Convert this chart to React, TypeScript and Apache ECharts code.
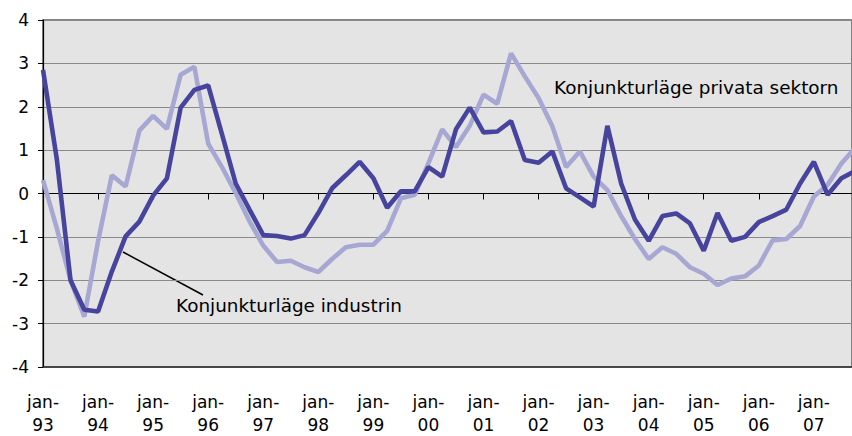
import React, { useEffect, useRef } from 'react';
import * as echarts from 'echarts';

// Quarterly observations, 1993 Q1 .. 2007 Q4 (index = quarter number)
const yearLabels = ['93', '94', '95', '96', '97', '98', '99', '00', '01', '02', '03', '04', '05', '06', '07'];

const industrin = [
  2.85, 0.8, -2.0, -2.68, -2.72, -1.8, -0.99, -0.65,
  -0.05, 0.35, 1.98, 2.39, 2.49, 1.37, 0.23, -0.37,
  -0.96, -0.98, -1.04, -0.96, -0.45, 0.12, 0.42, 0.73,
  0.35, -0.33, 0.05, 0.05, 0.61, 0.39, 1.48, 1.98,
  1.41, 1.43, 1.67, 0.77, 0.71, 0.97, 0.12, -0.09,
  -0.3, 1.56, 0.23, -0.6, -1.09, -0.52, -0.46, -0.69,
  -1.32, -0.45, -1.09, -1.0, -0.66, -0.52, -0.37, 0.23,
  0.73, -0.03, 0.35, 0.52,
];

const privata = [
  0.31, -0.8, -2.0, -2.84, -1.1, 0.42, 0.16, 1.45,
  1.79, 1.49, 2.74, 2.92, 1.15, 0.61, 0.01, -0.64,
  -1.2, -1.58, -1.55, -1.7, -1.81, -1.51, -1.24, -1.18,
  -1.18, -0.86, -0.11, -0.03, 0.7, 1.48, 1.07, 1.56,
  2.28, 2.07, 3.23, 2.7, 2.2, 1.55, 0.61, 0.97,
  0.39, 0.08, -0.52, -1.05, -1.51, -1.24, -1.39, -1.7,
  -1.85, -2.11, -1.96, -1.91, -1.66, -1.08, -1.05, -0.75,
  -0.07, 0.2, 0.69, 1.05,
];

const seriesNames = ['Konjunkturläge privata sektorn', 'Konjunkturläge industrin'];

const X_MAX = 58.77;
const FONT = 'DejaVu Sans';

export default function App() {
  const ref = useRef<HTMLDivElement>(null);

  useEffect(() => {
    const chart = echarts.init(ref.current!, null, { renderer: 'svg' });
    const toPairs = (arr: number[]) => arr.map((v, i) => [i, v]);
    const xLabel = (v: number) => {
      if (Math.abs(v - Math.round(v)) > 1e-6) return '';
      const r = Math.round(v);
      if (r % 4 !== 0) return '';
      const y = yearLabels[r / 4];
      return y ? 'jan-\n' + y : '';
    };

    chart.setOption({
      animation: false,
      backgroundColor: '#ffffff',
      grid: {
        left: 43,
        top: 20,
        right: -3,
        bottom: 66,
        show: true,
        backgroundColor: '#e4e4e4',
        borderColor: '#5c5c5c',
        borderWidth: 1.5,
      },
      xAxis: [
        {
          type: 'value',
          min: 0,
          max: X_MAX,
          interval: 4,
          position: 'top',
          axisLine: { show: true, onZero: true, lineStyle: { color: '#000', width: 1.2 } },
          axisTick: { show: true, inside: true, length: 6, lineStyle: { color: '#000', width: 1 } },
          axisLabel: { show: false },
          splitLine: { show: false },
        },
        {
          type: 'value',
          min: 0,
          max: X_MAX,
          interval: 4,
          position: 'bottom',
          axisLine: { show: true, onZero: false, lineStyle: { color: '#333', width: 1.5 } },
          axisTick: { show: false },
          splitLine: { show: false },
          axisLabel: {
            formatter: xLabel,
            fontFamily: FONT,
            fontSize: 17,
            lineHeight: 23,
            color: '#000',
            margin: 23,
            showMaxLabel: false,
          },
        },
      ],
      yAxis: {
        type: 'value',
        min: -4,
        max: 4,
        interval: 1,
        axisLine: { show: true, onZero: false, lineStyle: { color: '#000', width: 1.2 } },
        axisTick: { show: true, length: 5, lineStyle: { color: '#000' } },
        axisLabel: { fontFamily: FONT, fontSize: 17, color: '#000', margin: 14 },
        splitLine: { show: true, lineStyle: { color: '#8a8a8a', width: 1 } },
      },
      series: [
        {
          name: seriesNames[0],
          type: 'line',
          xAxisIndex: 0,
          data: toPairs(privata),
          symbol: 'none',
          lineStyle: { color: '#a7a7d3', width: 4.6 },
          itemStyle: { color: '#a7a7d3' },
        },
        {
          name: seriesNames[1],
          type: 'line',
          xAxisIndex: 0,
          data: toPairs(industrin),
          symbol: 'none',
          lineStyle: { color: '#46449c', width: 4.6 },
          itemStyle: { color: '#46449c' },
        },
      ],
      graphic: [
        {
          type: 'text',
          x: 554,
          y: 87,
          style: {
            text: seriesNames[0],
            fontFamily: FONT,
            fontSize: 18.4,
            fill: '#000',
            verticalAlign: 'middle',
          },
        },
        {
          type: 'text',
          x: 176,
          y: 305,
          style: {
            text: seriesNames[1],
            fontFamily: FONT,
            fontSize: 18.4,
            fill: '#000',
            verticalAlign: 'middle',
          },
        },
        {
          type: 'line',
          shape: { x1: 123, y1: 252, x2: 203, y2: 295 },
          style: { stroke: '#000', lineWidth: 1.5 },
        },
      ],
    });

    return () => chart.dispose();
  }, []);

  return (
    <div
      ref={ref}
      style={{ position: 'absolute', left: 0, top: 0, width: 852, height: 436, background: '#fff' }}
    />
  );
}
